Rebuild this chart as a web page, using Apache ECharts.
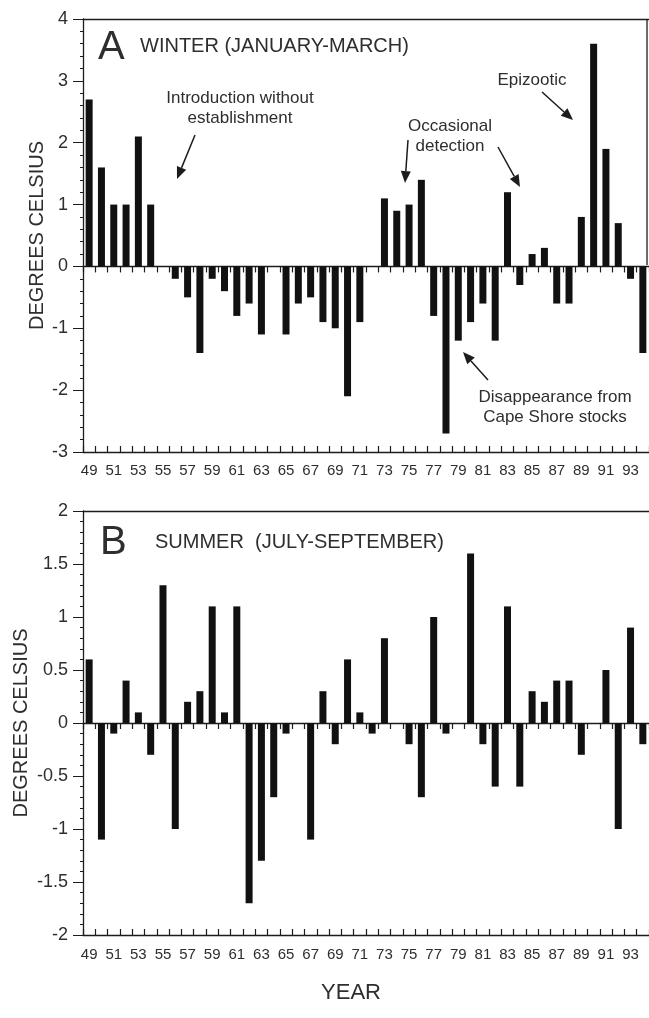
<!DOCTYPE html>
<html>
<head>
<meta charset="utf-8">
<title>Winter / Summer temperature anomalies</title>
<script src="https://cdn.jsdelivr.net/npm/echarts@6/dist/echarts.min.js"></script>
<style>
  html, body { margin: 0; padding: 0; background: #ffffff; }
  #chart { width: 649px; height: 1018px; }
</style>
</head>
<body>
<div id="chart"></div>
<script>
// years on the x axis (19xx)
const years = ['49', '50', '51', '52', '53', '54', '55', '56', '57', '58', '59', '60',
  '61', '62', '63', '64', '65', '66', '67', '68', '69', '70', '71', '72', '73', '74',
  '75', '76', '77', '78', '79', '80', '81', '82', '83', '84', '85', '86', '87', '88',
  '89', '90', '91', '92', '93', '94'];

// A: winter (January-March) anomalies, degrees C
const winter = [2.7, 1.6, 1.0, 1.0, 2.1, 1.0, 0, -0.2, -0.5, -1.4, -0.2, -0.4,
  -0.8, -0.6, -1.1, 0, -1.1, -0.6, -0.5, -0.9, -1.0, -2.1, -0.9, 0, 1.1, 0.9,
  1.0, 1.4, -0.8, -2.7, -1.2, -0.9, -0.6, -1.2, 1.2, -0.3, 0.2, 0.3, -0.6, -0.6,
  0.8, 3.6, 1.9, 0.7, -0.2, -1.4];

// B: summer (July-September) anomalies, degrees C
const summer = [0.6, -1.1, -0.1, 0.4, 0.1, -0.3, 1.3, -1.0, 0.2, 0.3, 1.1, 0.1,
  1.1, -1.7, -1.3, -0.7, -0.1, 0, -1.1, 0.3, -0.2, 0.6, 0.1, -0.1, 0.8, 0,
  -0.2, -0.7, 1.0, -0.1, 0, 1.6, -0.2, -0.6, 1.1, -0.6, 0.3, 0.2, 0.4, 0.4,
  -0.3, 0, 0.5, -1.0, 0.9, -0.2];

// value axis ranges
const winterAxis = { min: -3, max: 4, interval: 1 };
const summerAxis = { min: -2, max: 2, interval: 0.5 };

const FONT = 'Liberation Sans, Arial, sans-serif';
const INK = '#1c1c1c';
const TEXT = '#2e2e2e';

let chart = null;

// x axes for one panel: labelled bottom axis, zero line, top frame
function panelXAxes(gridIndex, labelMargin) {
  return [
    {
      gridIndex,
      type: 'category',
      data: years,
      position: 'bottom',
      axisLine: { onZero: false, lineStyle: { color: INK, width: 1.3 } },
      axisTick: { show: true, inside: true, interval: 0, length: 6, lineStyle: { color: INK, width: 1.2 } },
      axisLabel: { interval: 1, margin: labelMargin, color: TEXT, fontSize: 15, fontFamily: FONT }
    },
    {
      gridIndex,
      type: 'category',
      data: years,
      position: 'bottom',
      axisLine: { onZero: true, lineStyle: { color: INK, width: 1.3 } },
      axisTick: { show: true, inside: false, interval: 0, length: 6, lineStyle: { color: INK, width: 1.2 } },
      axisLabel: { show: false }
    },
    {
      gridIndex,
      type: 'category',
      data: years,
      position: 'top',
      axisLine: { lineStyle: { color: INK, width: 1.3 } },
      axisTick: { show: false },
      axisLabel: { show: false }
    }
  ];
}

function panelYAxis(gridIndex, range, nameGap) {
  return {
    gridIndex,
    type: 'value',
    min: range.min,
    max: range.max,
    interval: range.interval,
    name: 'DEGREES CELSIUS',
    nameLocation: 'middle',
    nameGap,
    nameMoveOverlap: false,
    nameTextStyle: { color: TEXT, fontSize: 20, fontFamily: FONT },
    axisLine: { show: true, lineStyle: { color: INK, width: 1.3 } },
    axisTick: { show: true, inside: false, length: 10, lineStyle: { color: INK } },
    minorTick: { show: true, splitNumber: 5, length: 3, lineStyle: { color: INK } },
    splitLine: { show: false },
    axisLabel: { margin: 15, color: TEXT, fontSize: 18, fontFamily: FONT }
  };
}

// line with a filled head at (x2, y2)
function arrow(x1, y1, x2, y2) {
  const dx = x2 - x1;
  const dy = y2 - y1;
  const len = Math.sqrt(dx * dx + dy * dy);
  const ux = dx / len;
  const uy = dy / len;
  const hl = 12;
  const hw = 5;
  const bx = x2 - ux * hl;
  const by = y2 - uy * hl;
  return [
    {
      type: 'line',
      shape: { x1, y1, x2: bx, y2: by },
      style: { stroke: INK, lineWidth: 1.5 }
    },
    {
      type: 'polygon',
      shape: { points: [[x2, y2], [bx - uy * hw, by + ux * hw], [bx + uy * hw, by - ux * hw]] },
      style: { fill: INK }
    }
  ];
}

function label(text, x, y, size, align) {
  return {
    type: 'text',
    x,
    y,
    style: {
      text,
      fill: TEXT,
      font: size + 'px ' + FONT,
      textAlign: align || 'center',
      textVerticalAlign: 'middle',
      lineHeight: Math.round(size * 1.2)
    }
  };
}

function init() {
  chart = echarts.init(document.getElementById('chart'), null, { renderer: 'canvas' });

  const graphics = [
    label('A', 98, 48, 40, 'left'),
    label('WINTER (JANUARY-MARCH)', 140, 46, 20, 'left'),
    label('B', 100, 543, 40, 'left'),
    label('SUMMER  (JULY-SEPTEMBER)', 155, 542, 20, 'left'),
    label('Introduction without\nestablishment', 240, 108, 17),
    label('Occasional\ndetection', 450, 136, 17),
    label('Epizootic', 532, 80, 17),
    label('Disappearance from\nCape Shore stocks', 555, 407, 17),
    label('YEAR', 351, 993, 22),
    // right frame of panel A
    {
      type: 'line',
      shape: { x1: 647, y1: 19, x2: 647, y2: 265 },
      style: { stroke: INK, lineWidth: 1.3 }
    }
  ].concat(
    arrow(195, 135, 177, 179),
    arrow(408, 140, 405, 183),
    arrow(498, 147, 520, 187),
    arrow(542, 92, 573, 120),
    arrow(488, 380, 463, 352)
  );

  const option = {
    backgroundColor: '#ffffff',
    animation: false,
    grid: [
      { left: 83, top: 19, width: 566, height: 433 },
      { left: 83, top: 511, width: 566, height: 424 }
    ],
    xAxis: panelXAxes(0, 11).concat(panelXAxes(1, 12)),
    yAxis: [
      panelYAxis(0, winterAxis, 36),
      panelYAxis(1, summerAxis, 52)
    ],
    series: [
      {
        name: 'Winter',
        type: 'bar',
        xAxisIndex: 0,
        yAxisIndex: 0,
        data: winter,
        barWidth: 7,
        itemStyle: { color: '#111111' }
      },
      {
        name: 'Summer',
        type: 'bar',
        xAxisIndex: 3,
        yAxisIndex: 1,
        data: summer,
        barWidth: 7,
        itemStyle: { color: '#111111' }
      }
    ],
    graphic: graphics
  };
  chart.setOption(option);
}

init();
</script>
</body>
</html>
